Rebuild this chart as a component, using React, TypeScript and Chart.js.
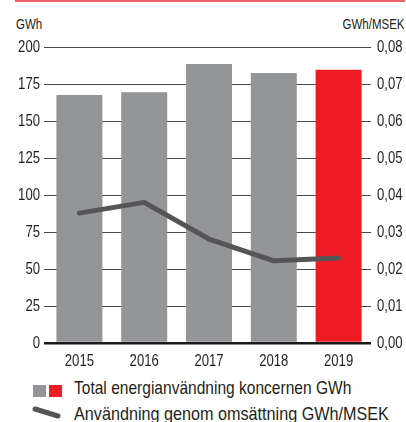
import React, { useEffect, useRef } from "react";
import { Chart, registerables } from "chart.js";

Chart.register(...registerables);

const years = ["2015", "2016", "2017", "2018", "2019"];
const energyGWh = [167.5, 169.5, 188.5, 182.4, 184.6];
const intensity = [0.0351, 0.038, 0.0281, 0.0222, 0.023];
const leftTicks = [0, 25, 50, 75, 100, 125, 150, 175, 200];
const barColors = ["#939598", "#939598", "#939598", "#939598", "#ed1c24"];

const FONT = "'Liberation Sans', Arial, sans-serif";
const SX = 0.82; // horizontal condensing (Arial Narrow look)
const TEXT = "#231f20";

const fmt2 = (v: number) => v.toFixed(2).replace(".", ",");

const narrowLabels = {
  id: "narrowLabels",
  afterDraw(chart: any) {
    const ctx = chart.ctx as CanvasRenderingContext2D;
    const draw = (text: string, x: number, y: number, align: CanvasTextAlign, baseline: CanvasTextBaseline) => {
      ctx.save();
      ctx.translate(x, y);
      ctx.scale(SX, 1);
      ctx.textAlign = align;
      ctx.textBaseline = baseline;
      ctx.fillStyle = TEXT;
      ctx.font = "16px " + FONT;
      ctx.fillText(text, 0, 0);
      ctx.restore();
    };
    const xs = chart.scales.x;
    xs.ticks.forEach((t: any, i: number) => {
      draw(String(xs.getLabelForValue(t.value)), xs.getPixelForTick(i), 366, "center", "alphabetic");
    });
    const ys = chart.scales.y;
    ys.ticks.forEach((t: any) => {
      draw(String(t.value), chart.chartArea.left - 7, ys.getPixelForValue(t.value) + 1, "right", "middle");
    });
    const y2 = chart.scales.y2;
    y2.ticks.forEach((t: any) => {
      draw(fmt2(t.value), chart.chartArea.right + 6, y2.getPixelForValue(t.value) + 1, "left", "middle");
    });
  },
};

function Narrow({ left, top, size, children, right, sx }: any) {
  return (
    <div
      style={{
        position: "absolute",
        left,
        right,
        top,
        fontSize: size,
        lineHeight: size + "px",
        whiteSpace: "nowrap",
        transform: `scaleX(${sx ?? SX})`,
        transformOrigin: right !== undefined ? "right center" : "left center",
      }}
    >
      {children}
    </div>
  );
}

export default function App() {
  const ref = useRef<HTMLCanvasElement>(null);

  useEffect(() => {
    document.body.style.margin = "0";
    const ctx = ref.current!.getContext("2d")!;
    const chart = new Chart(ctx, {
      type: "bar",
      data: {
        labels: years,
        datasets: [
          {
            type: "line",
            label: "Användning genom omsättning GWh/MSEK",
            data: intensity,
            yAxisID: "y2",
            borderColor: "#555558",
            borderWidth: 5,
            borderCapStyle: "round",
            borderJoinStyle: "round",
            pointRadius: 0,
            tension: 0,
            order: 0,
          } as any,
          {
            type: "bar",
            label: "Total energianvändning koncernen GWh",
            data: energyGWh,
            yAxisID: "y",
            backgroundColor: barColors,
            borderWidth: 0,
            categoryPercentage: 1,
            barPercentage: 0.71,
            order: 1,
          },
        ],
      },
      options: {
        animation: false,
        responsive: false,
        maintainAspectRatio: false,
        layout: { padding: { top: 47, left: 0, right: 0, bottom: 0 } },
        plugins: { legend: { display: false }, tooltip: { enabled: false } },
        scales: {
          x: {
            grid: { display: false, drawTicks: false },
            border: { display: false },
            ticks: { display: false },
            afterFit: (s: any) => {
              s.height = 29;
            },
          },
          y: {
            position: "left",
            min: 0,
            max: 200,
            afterBuildTicks: (s: any) => {
              s.ticks = leftTicks.map((v) => ({ value: v }));
            },
            grid: {
              drawTicks: true,
              tickLength: 3,
              color: (c: any) => (c.tick && c.tick.value === 0 ? "#1a1a1a" : "#4a4a4a"),
              lineWidth: (c: any) => (c.tick && c.tick.value === 0 ? 2.5 : 1),
            },
            border: { display: false },
            ticks: { display: false },
            afterFit: (s: any) => {
              s.width = 47;
            },
          },
          y2: {
            position: "right",
            min: 0,
            max: 0.08,
            grid: { display: false, drawTicks: false },
            border: { display: false },
            ticks: { display: false, stepSize: 0.01 },
            afterFit: (s: any) => {
              s.width = 35;
            },
          },
        },
      },
      plugins: [narrowLabels],
    });
    return () => chart.destroy();
  }, []);

  return (
    <div style={{ position: "relative", width: 406, height: 422, overflow: "hidden", background: "#fff", fontFamily: FONT, color: TEXT }}>
      <div style={{ position: "absolute", left: 15, top: 0, width: 390, height: 2, background: "#ee626c" }} />
      <Narrow left={16} top={16.5} size={14}>GWh</Narrow>
      <Narrow right={2} top={16.5} size={14}>GWh/MSEK</Narrow>
      <canvas ref={ref} width={406} height={372} style={{ position: "absolute", left: 0, top: 0, width: 406, height: 372 }} />
      <div style={{ position: "absolute", left: 33, top: 384.5, width: 12.5, height: 12.5, background: "#939598" }} />
      <div style={{ position: "absolute", left: 48.5, top: 384.5, width: 13, height: 12.5, background: "#ed1c24" }} />
      <Narrow left={74} top={379.3} size={18.5} sx={0.84}>Total energianvändning koncernen GWh</Narrow>
      <div
        style={{
          position: "absolute",
          left: 32,
          top: 410,
          width: 29,
          height: 5,
          borderRadius: 2.5,
          background: "#555558",
          transform: "rotate(17deg)",
          transformOrigin: "center",
        }}
      />
      <Narrow left={74} top={405} size={18.5} sx={0.875}>Användning genom omsättning GWh/MSEK</Narrow>
    </div>
  );
}
